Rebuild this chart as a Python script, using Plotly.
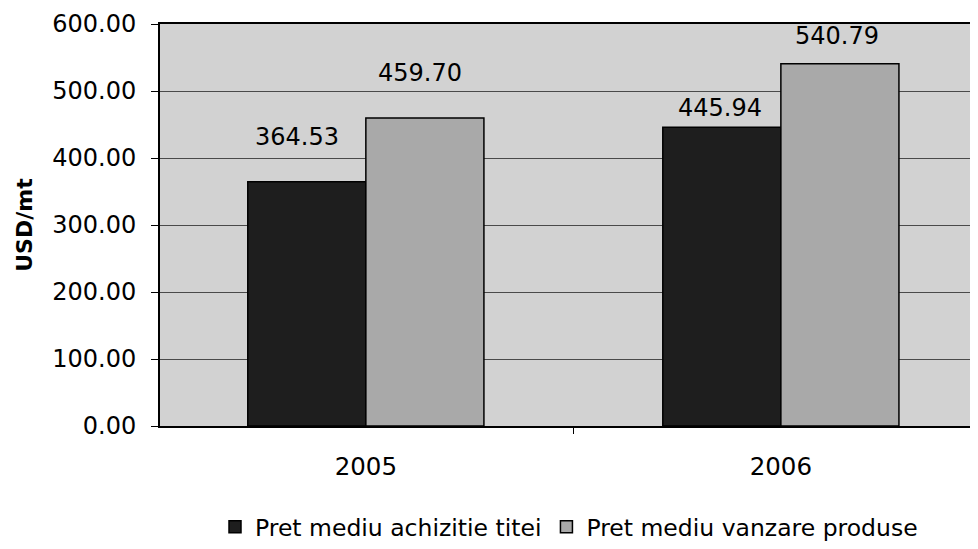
import plotly.graph_objects as go

categories = ["2005", "2006"]
series_names = ["Pret mediu achizitie titei", "Pret mediu vanzare produse"]
achizitie = [364.53, 445.94]
vanzare = [459.70, 540.79]
y_ticks = [0, 100, 200, 300, 400, 500, 600]
y_tick_labels = ["0.00", "100.00", "200.00", "300.00", "400.00", "500.00", "600.00"]

series_values = [achizitie, vanzare]
bar_colors = ["#1e1e1e", "#a9a9a9"]
# label offsets in pixels (dx, dy) relative to the category centre / bar top
label_offsets = [[(-69, 45), (-61, 19)], [(54, 45), (56, 28)]]

FONT = "DejaVu Sans, Arial, sans-serif"

fig = go.Figure()
for name, vals, col in zip(series_names, series_values, bar_colors):
    fig.add_trace(go.Bar(
        x=categories, y=vals, name=name,
        marker=dict(color=col, line=dict(color="black", width=1.5)),
    ))

annotations = []
for si, vals in enumerate(series_values):
    for ci, v in enumerate(vals):
        dx, dy = label_offsets[si][ci]
        annotations.append(dict(
            x=ci, y=v, xref="x", yref="y",
            text=f"{v:.2f}", showarrow=False,
            xshift=dx, yshift=dy, yanchor="middle", xanchor="center",
            font=dict(family=FONT, size=24, color="black"),
        ))

annotations.append(dict(
    x=-0.1665, y=0.5, xref="paper", yref="paper", text="<b>USD/mt</b>",
    textangle=-90, showarrow=False, xanchor="center", yanchor="middle",
    font=dict(family=FONT, size=22, color="black"),
))

fig.update_layout(
    width=970, height=533,
    margin=dict(l=152, r=0, t=16, b=115, autoexpand=False),
    paper_bgcolor="white",
    plot_bgcolor="#d2d2d2",
    barmode="group",
    bargap=0.431, bargroupgap=0,
    font=dict(family=FONT, size=24, color="black"),
    showlegend=True,
    legend=dict(
        orientation="h", x=0.5, y=-0.251, xanchor="center", yanchor="middle",
        font=dict(family=FONT, size=23.5, color="black"),
        bgcolor="rgba(0,0,0,0)", traceorder="normal",
    ),
    annotations=annotations,
)

fig.update_xaxes(
    type="category", range=[-0.496, 1.475],
    showline=True, linecolor="black", linewidth=2, mirror=True,
    ticks="outside", tickson="boundaries", ticklen=6, tickcolor="black",
    ticklabelstandoff=18, showgrid=False,
    tickfont=dict(family=FONT, size=24.5, color="black"),
)
fig.update_yaxes(
    range=[0, 600], tickvals=y_ticks, ticktext=y_tick_labels,
    showline=True, linecolor="black", linewidth=2,
    ticks="outside", ticklen=7, tickcolor="black",
    showgrid=True, gridcolor="#4a4a4a", gridwidth=1,
    zeroline=False, ticklabelstandoff=10,
    tickfont=dict(family=FONT, size=24, color="black"),
)

fig.write_html("out.html")
